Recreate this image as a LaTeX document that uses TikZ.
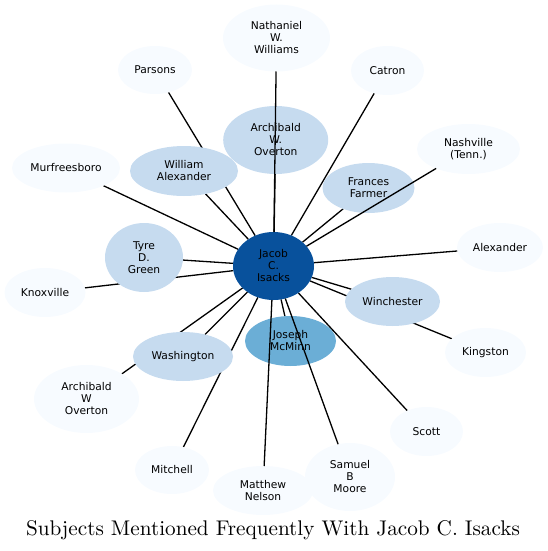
\documentclass[tikz,border=0pt]{standalone}
\usepackage{fontspec}
\newfontfamily\subjectfont{DejaVu Sans}
\newfontfamily\titlefont{lmroman10-regular}[Extension=.otf]
\usetikzlibrary{shapes.geometric}
\pgfdeclarelayer{background}
\pgfsetlayers{background,main}
\definecolor{bluefaint}{HTML}{F7FBFF}
\definecolor{bluelight}{HTML}{C6DBEF}
\definecolor{bluemid}{HTML}{6BAED6}
\definecolor{bluedark}{HTML}{08519C}
\tikzset{
  subject/.style={ellipse, inner sep=0pt, outer sep=0pt, align=center,
    font={\subjectfont\fontsize{10.7}{12}\selectfont}},
  faint/.style={subject, fill=bluefaint},
  light/.style={subject, fill=bluelight},
  link/.style={line width=1.3pt}
}
\begin{document}
\begin{tikzpicture}[x=1pt,y=-1pt]
                \useasboundingbox (0,0) rectangle (548,551);
                % centre
                \node[subject, fill=bluedark, minimum width=81, minimum height=68] (jacob) at (273.5,266) {Jacob\\C.\\Isacks};
                % ring
                \node[faint, minimum width=107, minimum height=67] (nathaniel) at (276.5,38) {Nathaniel\\W.\\Williams};
                \node[faint, minimum width=74, minimum height=48] (parsons) at (155,70) {Parsons};
                \node[faint, minimum width=73, minimum height=49] (catron) at (387.5,70.5) {Catron};
                \node[light, minimum width=105, minimum height=68] (overtonaw) at (275.7,140) {Archibald\\W.\\Overton};
                \node[faint, minimum width=108, minimum height=49] (murfreesboro) at (66,168) {Murfreesboro};
                \node[light, minimum width=108, minimum height=50] (walexander) at (184,171) {William\\Alexander};
                \node[light, minimum width=92, minimum height=50] (farmer) at (368.5,188) {Frances\\Farmer};
                \node[faint, minimum width=103, minimum height=50] (nashville) at (468.5,149) {Nashville\\(Tenn.)};
                \node[light, minimum width=78, minimum height=69] (tyre) at (144,257.5) {Tyre\\D.\\Green};
                \node[faint, minimum width=81, minimum height=49] (knoxville) at (45,292.5) {Knoxville};
                \node[faint, minimum width=86, minimum height=49] (alexander) at (500,247.5) {Alexander};
                \node[light, minimum width=95, minimum height=49] (winchester) at (392.5,301.5) {Winchester};
                \node[faint, minimum width=81, minimum height=49] (kingston) at (485.5,352.5) {Kingston};
                \node[subject, fill=bluemid, minimum width=91, minimum height=50] (mcminn) at (290.5,341) {Joseph\\McMinn};
                \node[light, minimum width=100, minimum height=49] (washington) at (183,356.5) {Washington};
                \node[faint, minimum width=105, minimum height=68] (overtonw) at (86.5,399) {Archibald\\W\\Overton};
                \node[faint, minimum width=74, minimum height=48] (mitchell) at (172,470) {Mitchell};
                \node[faint, minimum width=100, minimum height=49] (nelson) at (263,490.5) {Matthew\\Nelson};
                \node[faint, minimum width=90, minimum height=68] (moore) at (350,477) {Samuel\\B\\Moore};
                \node[faint, minimum width=73, minimum height=49] (scott) at (426.5,431.5) {Scott};
                % links under the ellipses
                \begin{pgfonlayer}{background}
                \foreach \other in {parsons,catron,overtonaw,murfreesboro,walexander,farmer,tyre,knoxville,alexander,winchester,kingston,mcminn,washington,overtonw,mitchell,scott}
                    \draw[link] (jacob) -- (\other);
                \end{pgfonlayer}
                % links drawn over the ellipses
                \foreach \other in {nathaniel,nashville,nelson,moore}
                    \draw[link] (jacob) -- (\other);
                \node[anchor=base, font={\titlefont\fontsize{21.2}{25}\selectfont}] (title) at (273,535) {Subjects Mentioned Frequently With Jacob C. Isacks};
            \end{tikzpicture}
\end{document}
